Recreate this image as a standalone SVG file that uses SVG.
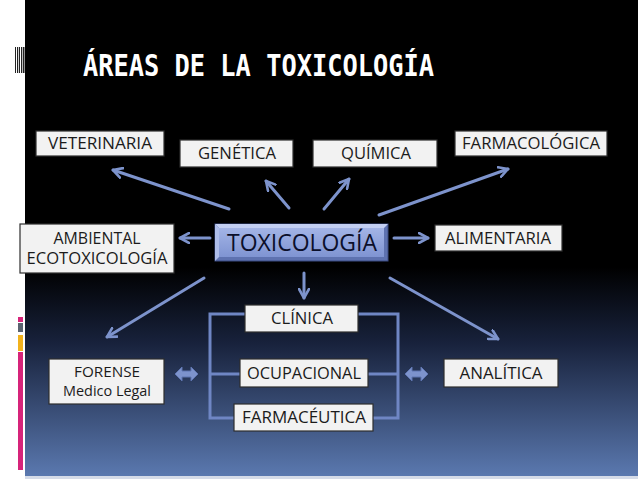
<svg xmlns="http://www.w3.org/2000/svg" width="638" height="479" viewBox="0 0 638 479">
<defs>
<linearGradient id="bg" x1="0" y1="0" x2="0" y2="477" gradientUnits="userSpaceOnUse">
<stop offset="0" stop-color="#000"/>
<stop offset="0.56" stop-color="#000"/>
<stop offset="0.72" stop-color="#18223c"/>
<stop offset="1" stop-color="#5b79b0"/>
</linearGradient>
<linearGradient id="tox" x1="0" y1="0" x2="0" y2="1">
<stop offset="0" stop-color="#a3b4e6"/>
<stop offset="1" stop-color="#7f94d2"/>
</linearGradient>
<marker id="ah" viewBox="0 0 12 12" refX="10" refY="6" markerWidth="12" markerHeight="12" markerUnits="userSpaceOnUse" orient="auto">
<path d="M1,1 L10,6 L1,11" fill="none" stroke="#7d93cc" stroke-width="2.6" stroke-linecap="round" stroke-linejoin="round"/>
</marker>
<style>
.box{fill:#f2f2f2;stroke:#2e2e2e;stroke-width:1.2}
.t{font-family:"Open Sans","Noto Sans","DejaVu Sans",sans-serif;font-size:16px;fill:#1b1b1b;text-anchor:middle}
.s{font-size:14.5px}
.c{stroke:#7d93cc;stroke-width:3;fill:none;stroke-linecap:round}
.br{stroke:#6f86c4;stroke-width:3;fill:none}
.dbl{fill:#7d93cc;stroke:#5f75b0;stroke-width:1}
</style>
</defs>
<rect x="0" y="0" width="638" height="479" fill="#fff"/>
<rect x="25" y="0" width="613" height="477" fill="url(#bg)"/>
<rect x="25" y="476" width="613" height="3" fill="#d5dbe8"/>
<g id="deco">
<g fill="#222">
<rect x="15" y="47" width="1" height="26"/><rect x="17" y="47" width="1.2" height="26"/><rect x="19" y="47" width="1" height="26"/><rect x="21" y="47" width="1.3" height="26"/><rect x="23" y="47" width="1.5" height="26"/>
</g>
<rect x="18" y="317" width="5" height="5" fill="#d6247a"/>
<rect x="18" y="323" width="5" height="9" fill="#5a6370"/>
<rect x="18" y="335" width="5" height="16" fill="#f2b21c"/>
<rect x="18" y="352" width="5" height="118" fill="#d6247a"/>
</g>
<text id="title" x="83" y="76" font-family="'DejaVu Sans Mono','Liberation Mono',monospace" font-weight="bold" font-size="31" fill="#fff" textLength="351" lengthAdjust="spacingAndGlyphs">ÁREAS DE LA TOXICOLOGÍA</text>
<g id="connectors">
<line class="c" x1="229" y1="209" x2="113" y2="170" marker-end="url(#ah)"/>
<line class="c" x1="289" y1="208" x2="266" y2="181" marker-end="url(#ah)"/>
<line class="c" x1="324" y1="209" x2="349" y2="179" marker-end="url(#ah)"/>
<line class="c" x1="379" y1="215" x2="508" y2="169" marker-end="url(#ah)"/>
<line class="c" x1="394" y1="238" x2="428" y2="238" marker-end="url(#ah)"/>
<line class="c" x1="210" y1="238" x2="180" y2="238" marker-end="url(#ah)"/>
<line class="c" x1="304" y1="273" x2="304" y2="298" marker-end="url(#ah)"/>
<line class="c" x1="204" y1="278" x2="107" y2="337" marker-end="url(#ah)"/>
<line class="c" x1="390" y1="278" x2="498" y2="339" marker-end="url(#ah)"/>
<path class="br" d="M245,314 H210 V418 H234 M210,374 H240"/>
<path class="br" d="M358,314 H398 V418 H373 M398,374 H368"/>
<path class="dbl" d="M175,374 L182,367 L182,371 L191,371 L191,367 L198,374 L191,381 L191,377 L182,377 L182,381 Z"/>
<path class="dbl" d="M405,374 L412,367 L412,371 L421,371 L421,367 L428,374 L421,381 L421,377 L412,377 L412,381 Z"/>
</g>
<g id="veterinaria"><rect class="box" x="36" y="131" width="128" height="25"/><text class="t" x="100" y="149" textLength="104" lengthAdjust="spacingAndGlyphs">VETERINARIA</text></g>
<g id="genetica"><rect class="box" x="180" y="140" width="113" height="27"/><text class="t" x="237" y="159" textLength="78" lengthAdjust="spacingAndGlyphs">GENÉTICA</text></g>
<g id="quimica"><rect class="box" x="313" y="140" width="124" height="27"/><text class="t" x="376" y="159" textLength="70" lengthAdjust="spacingAndGlyphs">QUÍMICA</text></g>
<g id="farmacologica"><rect class="box" x="455" y="131" width="152" height="25"/><text class="t" x="531" y="149" textLength="138" lengthAdjust="spacingAndGlyphs">FARMACOLÓGICA</text></g>
<g id="ambiental"><rect class="box" x="20" y="224" width="154" height="49"/><text class="t" x="97" y="244" textLength="87" lengthAdjust="spacingAndGlyphs">AMBIENTAL</text><text class="t" x="97" y="264" textLength="141" lengthAdjust="spacingAndGlyphs">ECOTOXICOLOGÍA</text></g>
<g id="toxicologia">
<rect x="215" y="224" width="173" height="37" fill="#5e72b0" stroke="#3b4a80" stroke-width="1"/>
<path d="M215,224 H388 L384,228 H219 Z" fill="#c3cff2"/>
<path d="M215,224 L219,228 V257 L215,261 Z" fill="#aebde9"/>
<rect x="219" y="228" width="165" height="29" fill="url(#tox)"/>
<text x="302" y="251" font-family="'Open Sans','Noto Sans',sans-serif" font-size="23" fill="#0b0f2a" text-anchor="middle" textLength="150" lengthAdjust="spacingAndGlyphs">TOXICOLOGÍA</text>
</g>
<g id="alimentaria"><rect class="box" x="435" y="225" width="127" height="26"/><text class="t" x="498" y="244" textLength="106" lengthAdjust="spacingAndGlyphs">ALIMENTARIA</text></g>
<g id="clinica"><rect class="box" x="245" y="305" width="113" height="27"/><text class="t" x="302" y="324" textLength="62" lengthAdjust="spacingAndGlyphs">CLÍNICA</text></g>
<g id="ocupacional"><rect class="box" x="240" y="359" width="128" height="28"/><text class="t" x="304" y="379" textLength="114" lengthAdjust="spacingAndGlyphs">OCUPACIONAL</text></g>
<g id="farmaceutica"><rect class="box" x="234" y="404" width="139" height="27"/><text class="t" x="304" y="423" textLength="124" lengthAdjust="spacingAndGlyphs">FARMACÉUTICA</text></g>
<g id="forense"><rect class="box" x="49" y="359" width="115" height="45"/><text class="t s" x="107" y="377" textLength="66" lengthAdjust="spacingAndGlyphs">FORENSE</text><text class="t s" x="107" y="396" textLength="88" lengthAdjust="spacingAndGlyphs">Medico Legal</text></g>
<g id="analitica"><rect class="box" x="444" y="359" width="114" height="28"/><text class="t" x="501" y="379" textLength="83" lengthAdjust="spacingAndGlyphs">ANALÍTICA</text></g>
</svg>
